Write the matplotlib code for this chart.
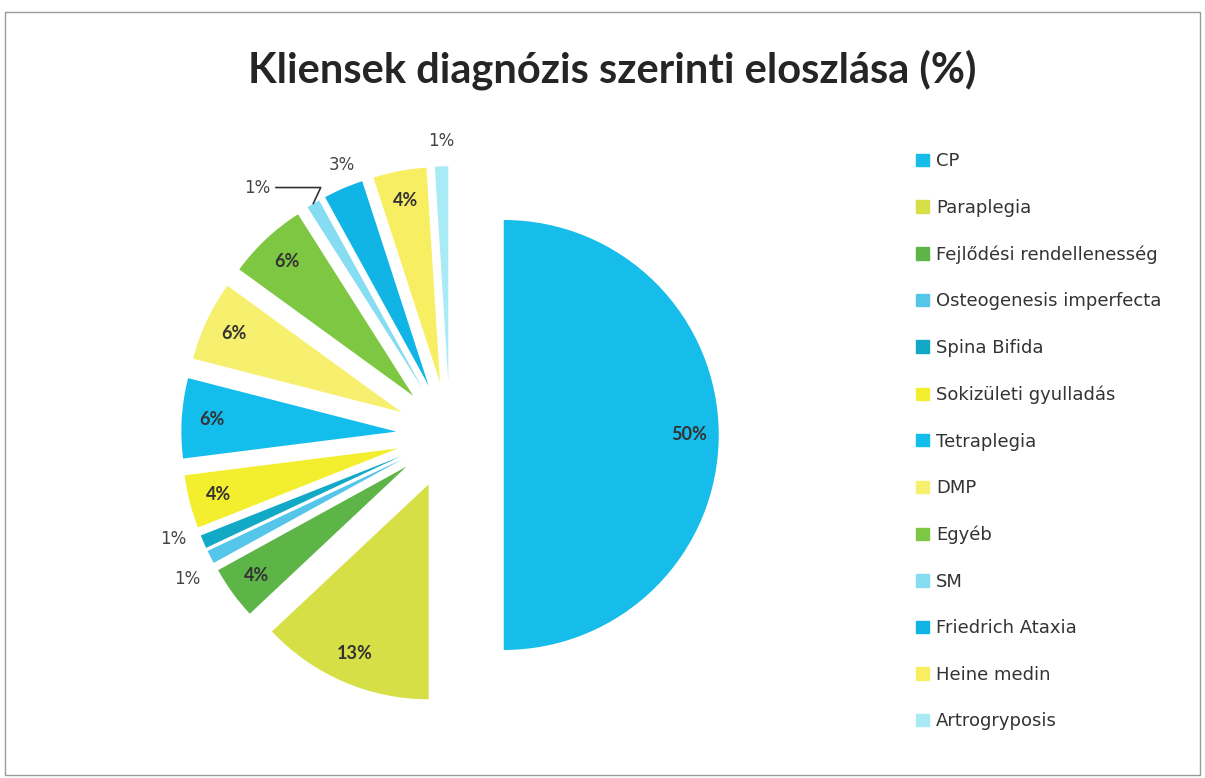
import matplotlib.pyplot as plt
import matplotlib.patches as mpatches
import numpy as np

plt.rcParams['font.family'] = ['Lato', 'DejaVu Sans']

# data
categories = ['CP', 'Paraplegia', 'Fejlődési rendellenesség', 'Osteogenesis imperfecta',
              'Spina Bifida', 'Sokizületi gyulladás', 'Tetraplegia', 'DMP', 'Egyéb',
              'SM', 'Friedrich Ataxia', 'Heine medin', 'Artrogryposis']
values = [50, 13, 4, 1, 1, 4, 6, 6, 6, 1, 3, 4, 1]

colors = ['#16BCEA', '#D6DF45', '#5DB548', '#55C6EA', '#12A9C6', '#F3EE2E',
          '#13BEEC', '#F7EF6E', '#7DC742', '#86DDF1', '#10B5E6', '#F8EE62', '#A8EAF5']

fig = plt.figure(figsize=(12.05, 7.78), dpi=100)

# thin scan frame
fig.add_artist(mpatches.Rectangle((0.004, 0.004), 0.992, 0.98, transform=fig.transFigure,
                                  fill=False, ec='#9a9a9a', lw=1.0))

fig.text(0.508, 0.91, 'Kliensek diagnózis szerinti eloszlása (%)', ha='center', va='center',
         fontsize=30, fontweight='bold', color='#252525')

ax = fig.add_axes([0.1058, 0.0264, 0.5353, 0.829])
explode = [0.25] * len(values)
wedges, texts, autotexts = ax.pie(values, colors=colors, startangle=90, counterclock=False,
                                  explode=explode, autopct='%d%%', pctdistance=0.86,
                                  textprops=dict(fontsize=13, color='#333333', fontweight='bold'))
ax.set_xlim(-1.5, 1.5)
ax.set_ylim(-1.5, 1.5)
ax.set_aspect('equal')
ax.axis('off')

# small slices: labels outside the pie (extra nudge in data units)
nudge = {'Osteogenesis imperfecta': (0.0, -0.05), 'Spina Bifida': (-0.03, 0.06),
         'Friedrich Ataxia': (0.04, 0.0)}
for w, t, v, lab in zip(wedges, autotexts, values, categories):
    if v > 3:
        continue
    ang = np.deg2rad((w.theta1 + w.theta2) / 2)
    cx, cy = w.center
    t.set_fontweight('normal')
    t.set_color('#444444')
    t.set_fontsize(12)
    t.set_family(['DejaVu Sans'])
    if lab == 'SM':
        t.set_visible(False)
        xy = (cx + np.cos(ang), cy + np.sin(ang))
        ax.annotate('1%', xy=xy, xytext=(xy[0] - 0.2, xy[1] + 0.075),
                    ha='right', va='center', fontsize=12, color='#444444', family=['DejaVu Sans'],
                    arrowprops=dict(arrowstyle='-', color='#333333', lw=1.2,
                                    shrinkA=2, shrinkB=0,
                                    connectionstyle='angle,angleA=0,angleB=65,rad=0'))
    else:
        dx, dy = nudge.get(lab, (0.0, 0.0))
        t.set_position((cx + 1.12 * np.cos(ang) + dx, cy + 1.12 * np.sin(ang) + dy))

handles = [mpatches.Patch(color=c) for c in colors]
leg = fig.legend(handles, categories, loc='upper left', bbox_to_anchor=(0.747, 0.825),
                 frameon=False, prop=dict(family='DejaVu Sans', size=13),
                 handlelength=0.68, handleheight=0.68,
                 handletextpad=0.4, labelspacing=1.58, labelcolor='#333333')

fig.savefig('out.png', dpi=100, facecolor='white')
